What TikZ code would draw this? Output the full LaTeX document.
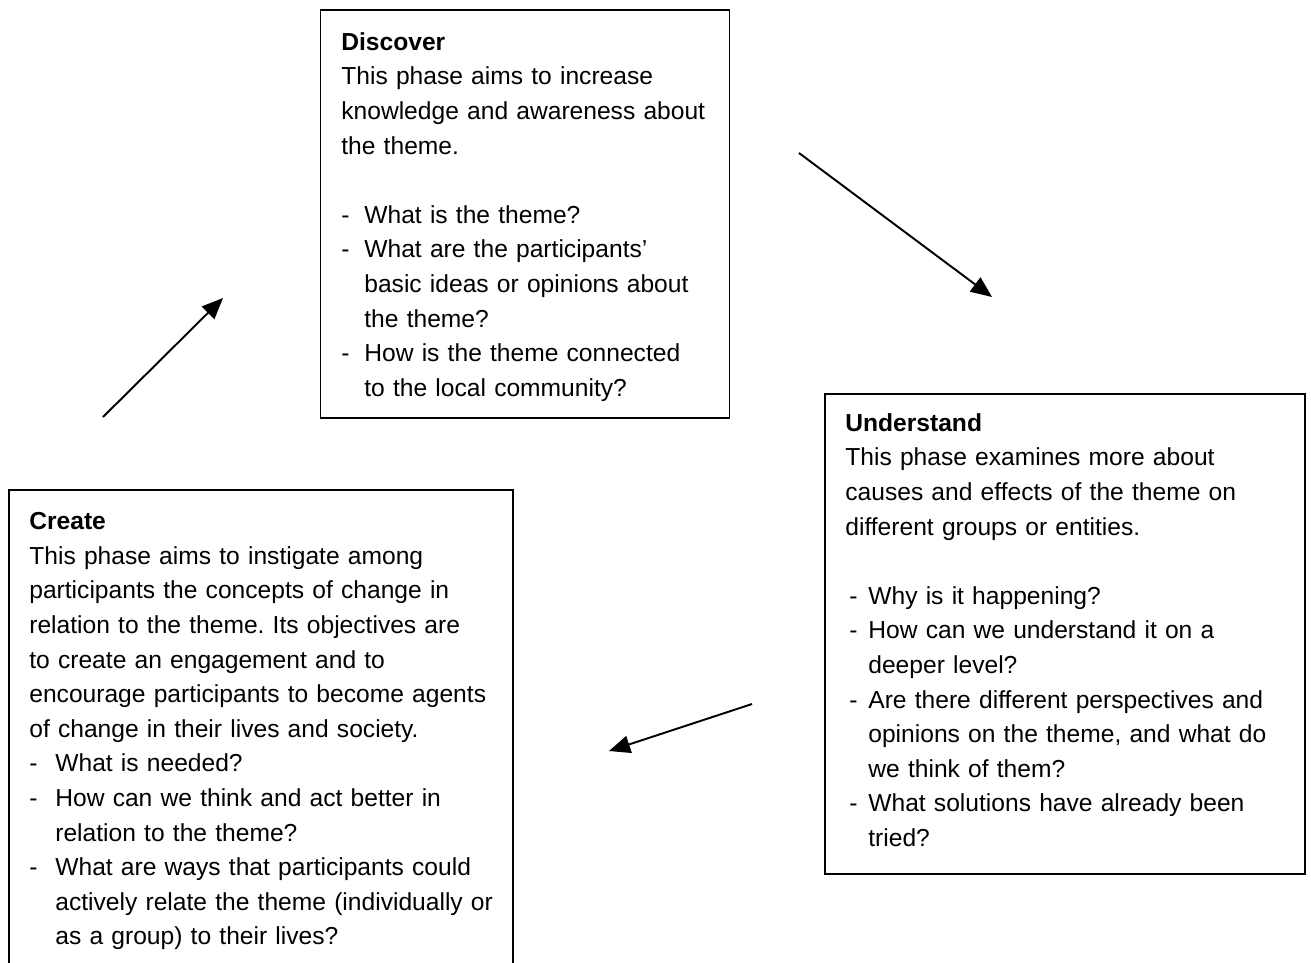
\documentclass[tikz,border=0pt]{standalone}
\usepackage{fontspec}
\setmainfont{Liberation Sans}
\usetikzlibrary{arrows.meta}
\frenchspacing

\newcommand{\qdash}[1]{\makebox[#1][l]{-}}

\tikzset{
    phasebox/.style={draw, line width=1.1pt, anchor=north west, inner sep=0pt},
    phasetext/.style={anchor=north west, inner sep=0pt, align=left, text width=10cm,
        font=\fontsize{14pt}{19.7pt}\selectfont},
    phasearrow/.style={line width=1.1pt, -{Triangle[length=12pt,width=10pt]}}
}

\begin{document}
\begin{tikzpicture}
    \useasboundingbox (0,0) rectangle (26.22,-19.24);
    \clip (0,0) rectangle (26.22,-19.24);

    % Discover
    \node[phasebox, minimum width=8.18cm, minimum height=8.16cm] (discover) at (6.39,-0.18) {};
    \node[phasetext] (discovertext) at (6.82,-0.64) {\textbf{Discover}\\
        This phase aims to increase\\
        knowledge and awareness about\\
        the theme.\\[0.692cm]
        \qdash{13.1pt}What is the theme?\\
        \qdash{13.1pt}What are the participants'\\
        \hspace*{13.1pt}basic ideas or opinions about\\
        \hspace*{13.1pt}the theme?\\
        \qdash{13.1pt}How is the theme connected\\
        \hspace*{13.1pt}to the local community?};

    % Understand
    \node[phasebox, minimum width=9.6cm, minimum height=9.6cm] (understand) at (16.48,-7.86) {};
    \node[phasetext] (understandtext) at (16.9,-8.26) {\textbf{Understand}\\
        This phase examines more about\\
        causes and effects of the theme on\\
        different groups or entities.\\[0.692cm]
        \hspace*{2.3pt}\qdash{10.8pt}Why is it happening?\\
        \hspace*{2.3pt}\qdash{10.8pt}How can we understand it on a\\
        \hspace*{13.1pt}deeper level?\\
        \hspace*{2.3pt}\qdash{10.8pt}Are there different perspectives and\\
        \hspace*{13.1pt}opinions on the theme, and what do\\
        \hspace*{13.1pt}we think of them?\\
        \hspace*{2.3pt}\qdash{10.8pt}What solutions have already been\\
        \hspace*{13.1pt}tried?};

    % Create (runs off the page)
    \node[phasebox, minimum width=10.08cm, minimum height=9.9cm] (create) at (0.16,-9.78) {};
    \node[phasetext] (createtext) at (0.58,-10.24) {\textbf{Create}\\
        This phase aims to instigate among\\
        participants the concepts of change in\\
        relation to the theme. Its objectives are\\
        to create an engagement and to\\
        encourage participants to become agents\\
        of change in their lives and society.\\
        \qdash{14.8pt}What is needed?\\
        \qdash{14.8pt}How can we think and act better in\\
        \hspace*{14.8pt}relation to the theme?\\
        \qdash{14.8pt}What are ways that participants could\\
        \hspace*{14.8pt}actively relate the theme (individually or\\
        \hspace*{14.8pt}as a group) to their lives?};

    % cycle arrows
    \coordinate (c2dstart) at (2.06,-8.34);
    \coordinate (c2dend) at (4.46,-5.96);
    \coordinate (d2ustart) at (15.98,-3.06);
    \coordinate (d2uend) at (19.84,-5.94);
    \coordinate (u2cstart) at (15.04,-14.08);
    \coordinate (u2cend) at (12.18,-15.02);

    \draw[phasearrow] (c2dstart) -- (c2dend);
    \draw[phasearrow] (d2ustart) -- (d2uend);
    \draw[phasearrow] (u2cstart) -- (u2cend);
\end{tikzpicture}
\end{document}
